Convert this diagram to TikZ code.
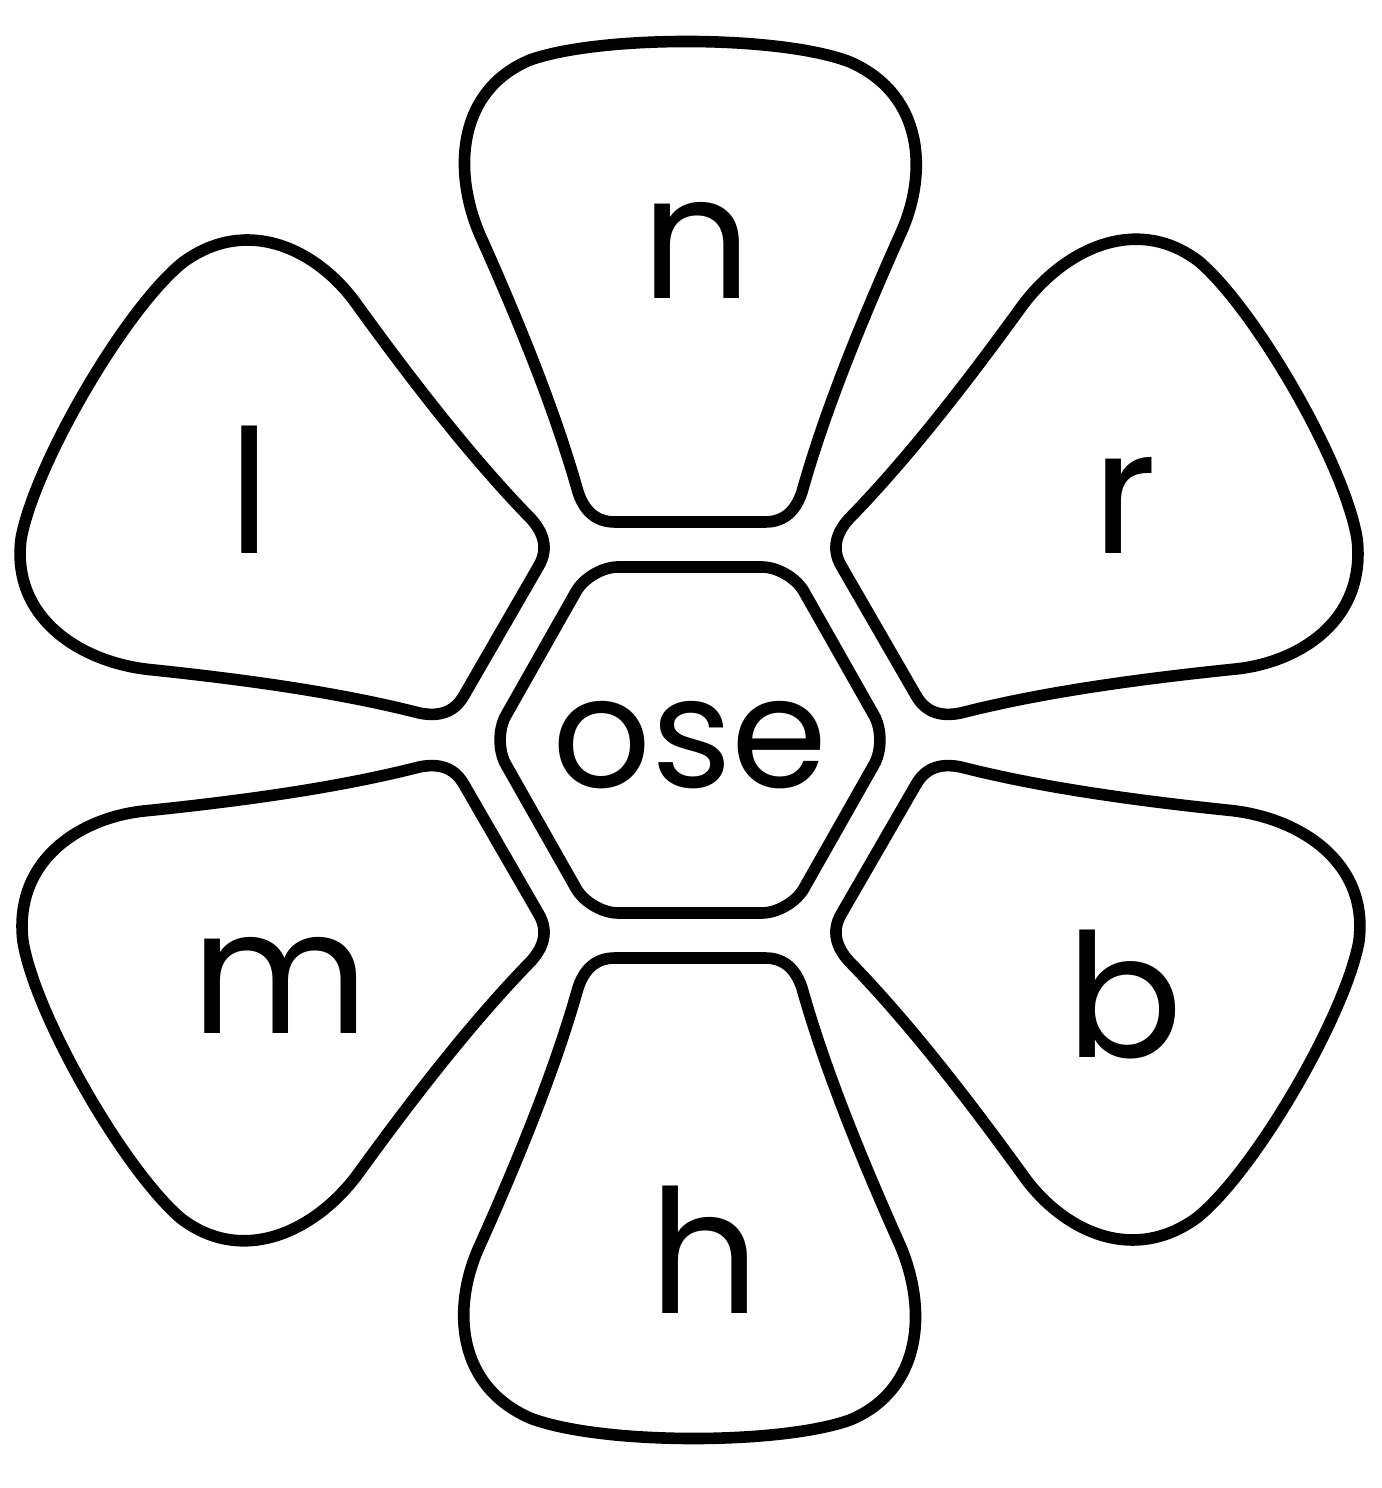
\documentclass[tikz,border=0pt]{standalone}
\usepackage{fontspec}
\setmainfont{Poppins}
\usepackage{tikz}

\tikzset{
  petal/.style={draw=black, line width=3.3pt, line join=round},
  letter/.style={font=\fontsize{49}{50}\selectfont, inner sep=0pt},
}

\begin{document}
\begin{tikzpicture}[x=0.01cm, y=-0.01cm]
    % page frame (pixel units, centre of the flower at the origin)
    \useasboundingbox (-690,-740) rectangle (692,748);
    % six petals round the centre
    \foreach \a in {0,-60,-120,180,120,60}
        \draw[petal, rotate=\a] (-75,-218) -- (75,-218)
            .. controls (95,-218) and (106,-230) .. (112,-248)
            .. controls (135,-330) and (172,-420) .. (210,-505)
            .. controls (238,-565) and (235,-645) .. (160,-678)
            .. controls (90,-705) and (-90,-705) .. (-160,-680)
            .. controls (-232,-650) and (-238,-570) .. (-210,-505)
            .. controls (-172,-420) and (-135,-330) .. (-112,-248)
            .. controls (-106,-230) and (-95,-218) .. (-75,-218) -- cycle;
    % hexagon in the middle
    \draw[petal, rounded corners=8pt] (0,-173) -- (100,-173) -- (198,0) -- (100,173)
        -- (-100,173) -- (-198,0) -- (-100,-173) -- cycle;
    \node[inner sep=0pt, font=\fontsize{44}{45}\selectfont] (core) at (0,5) {ose};
    \node[letter] (n) at (7,-490) {n};
    \node[letter] (r) at (435,-235) {r};
    \node[letter] (b) at (435,255) {b};
    \node[letter] (h) at (15,510) {h};
    \node[letter] (m) at (-410,245) {m};
    \node[letter] (l) at (-440,-250) {l};
\end{tikzpicture}
\end{document}
